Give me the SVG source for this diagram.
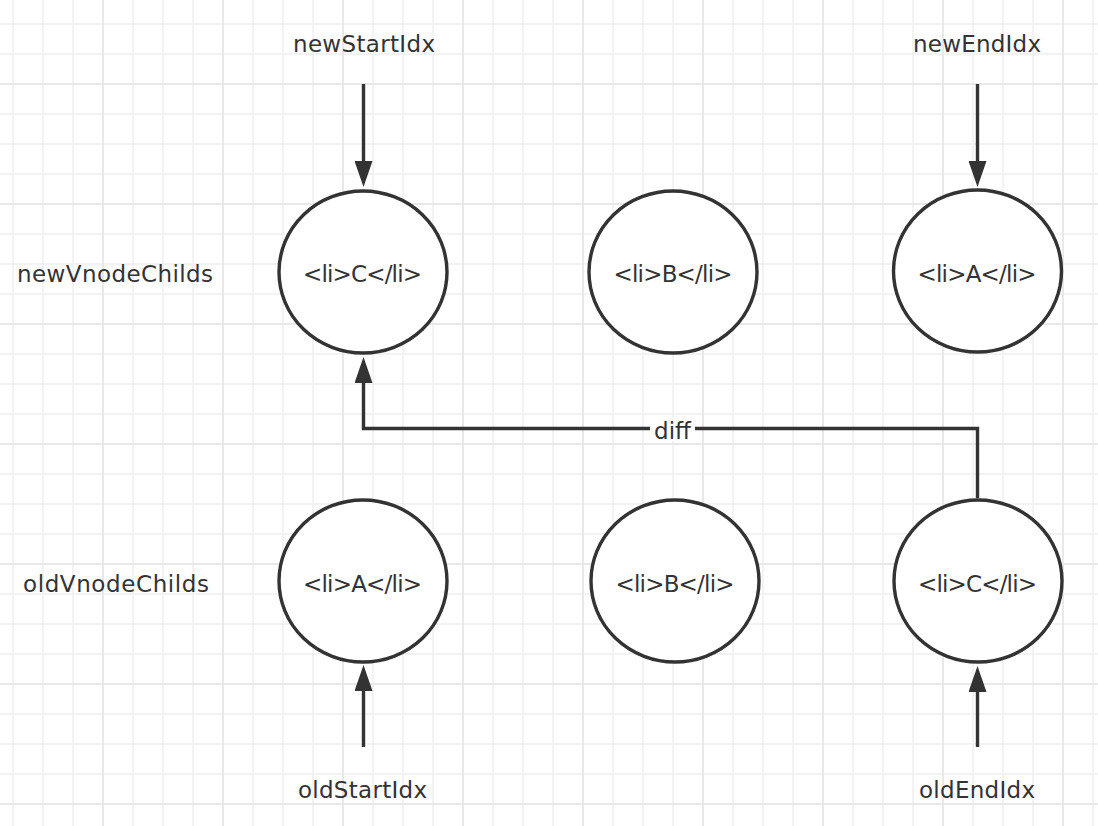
<svg xmlns="http://www.w3.org/2000/svg" width="1098" height="826" viewBox="0 0 1098 826">
  <style>
    .node { fill: #ffffff; stroke: #333333; stroke-width: 3.4; }
    .lbl { font-family: "DejaVu Sans", "Liberation Sans", sans-serif; fill: #333333; text-anchor: middle; }
    .nl { font-size: 23px; }
    .tl { font-size: 23px; }
    .edge { fill: none; stroke: #333333; stroke-width: 3.4; }
  </style>
  <defs>
    <pattern id="gridMinor" width="30" height="30" patternUnits="userSpaceOnUse" x="-2" y="9">
      <path d="M15,0 V30 M0,15 H30" stroke="#f0f0f0" stroke-width="1.6" fill="none"/>
    </pattern>
    <pattern id="gridMajor" width="120" height="120" patternUnits="userSpaceOnUse" x="43" y="24">
      <path d="M60,0 V120 M0,60 H120" stroke="#e8e8e8" stroke-width="1.8" fill="none"/>
    </pattern>
    <marker id="arrow" markerUnits="userSpaceOnUse" markerWidth="26" markerHeight="18" refX="16" refY="9" orient="auto" viewBox="0 0 26 18">
      <path d="M0,0 L26,9 L0,18 Z" fill="#333333"/>
    </marker>
  </defs>

  <g id="background">
    <rect x="0" y="0" width="1098" height="826" fill="#ffffff"/>
    <rect x="0" y="0" width="1098" height="826" fill="url(#gridMinor)"/>
    <rect x="0" y="0" width="1098" height="826" fill="url(#gridMajor)"/>
  </g>

  <g id="row-labels">
    <text class="lbl tl" x="115" y="282" textLength="196" lengthAdjust="spacing">newVnodeChilds</text>
    <text class="lbl tl" x="116" y="592" textLength="186" lengthAdjust="spacing">oldVnodeChilds</text>
  </g>

  <g id="index-labels">
    <text class="lbl tl" x="364" y="52" textLength="142" lengthAdjust="spacing">newStartIdx</text>
    <text class="lbl tl" x="977" y="52" textLength="128" lengthAdjust="spacing">newEndIdx</text>
    <text class="lbl tl" x="362.5" y="798" textLength="129" lengthAdjust="spacing">oldStartIdx</text>
    <text class="lbl tl" x="977" y="798" textLength="116" lengthAdjust="spacing">oldEndIdx</text>
  </g>

  <g id="connectors">
    <line class="edge" x1="363.5" y1="84" x2="363.5" y2="177" marker-end="url(#arrow)"/>
    <line class="edge" x1="977.5" y1="84" x2="977.5" y2="177" marker-end="url(#arrow)"/>
    <line class="edge" x1="363.5" y1="747" x2="363.5" y2="675" marker-end="url(#arrow)"/>
    <line class="edge" x1="977.5" y1="747" x2="977.5" y2="676" marker-end="url(#arrow)"/>
    <path class="edge" d="M977.5,498 V428.5 H363.5 V367" marker-end="url(#arrow)"/>
    <rect x="650" y="417" width="45" height="24" fill="#ffffff"/>
    <text class="lbl nl" x="672.5" y="439">diff</text>
  </g>

  <g id="new-C">
    <ellipse class="node" cx="363" cy="272" rx="84" ry="81"/>
    <text class="lbl nl" x="362.5" y="282" textLength="119" lengthAdjust="spacing">&lt;li&gt;C&lt;/li&gt;</text>
  </g>
  <g id="new-B">
    <ellipse class="node" cx="673" cy="272" rx="84" ry="81"/>
    <text class="lbl nl" x="673" y="282" textLength="119" lengthAdjust="spacing">&lt;li&gt;B&lt;/li&gt;</text>
  </g>
  <g id="new-A">
    <ellipse class="node" cx="977.5" cy="271" rx="84" ry="81"/>
    <text class="lbl nl" x="977" y="282" textLength="119" lengthAdjust="spacing">&lt;li&gt;A&lt;/li&gt;</text>
  </g>
  <g id="old-A">
    <ellipse class="node" cx="363" cy="581" rx="84" ry="81"/>
    <text class="lbl nl" x="362.5" y="592" textLength="119" lengthAdjust="spacing">&lt;li&gt;A&lt;/li&gt;</text>
  </g>
  <g id="old-B">
    <ellipse class="node" cx="675" cy="581" rx="84" ry="81"/>
    <text class="lbl nl" x="675" y="592" textLength="119" lengthAdjust="spacing">&lt;li&gt;B&lt;/li&gt;</text>
  </g>
  <g id="old-C">
    <ellipse class="node" cx="978" cy="581" rx="84" ry="81"/>
    <text class="lbl nl" x="977.5" y="592" textLength="119" lengthAdjust="spacing">&lt;li&gt;C&lt;/li&gt;</text>
  </g>
</svg>
